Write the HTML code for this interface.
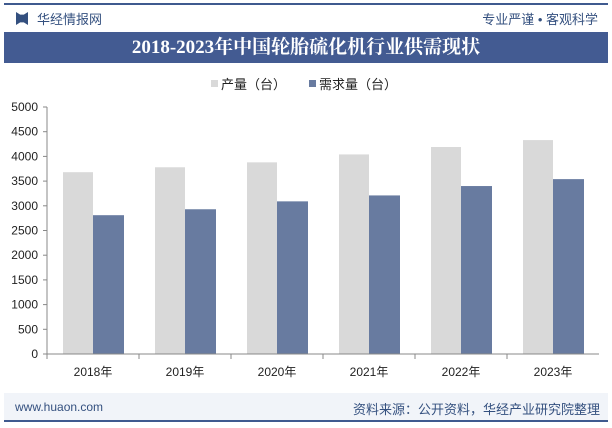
<!DOCTYPE html>
<html><head><meta charset="utf-8"><style>
body{margin:0;width:612px;height:428px;background:#fff;font-family:"Liberation Sans","Noto Sans CJK SC",sans-serif;position:relative;overflow:hidden}
.abs{position:absolute}
</style></head><body>
<div class="abs" style="left:4px;top:3px;width:604px;height:2px;background:#3f5a8f"></div>
<div class="abs" style="left:16px;top:12px;width:12px;height:13px;background:#34507f;clip-path:polygon(0 0,35% 20%,65% 20%,100% 0,100% 100%,65% 80%,35% 80%,0 100%)"></div>
<div class="abs" style="left:37px;top:9px;font-size:13px;color:#34507f">华经情报网</div>
<div class="abs" style="right:14px;top:9px;font-size:13px;color:#34507f">专业严谨 • 客观科学</div>
<div class="abs" style="left:4px;top:32px;width:604px;height:31px;background:#435b92;color:#fff;font:bold 19px 'Liberation Serif','Noto Serif CJK SC',serif;text-align:center;line-height:31px">2018-2023年中国轮胎硫化机行业供需现状</div>
<div class="abs" style="left:4px;top:393px;width:604px;height:27px;background:#f1f4f9"></div>
<div class="abs" style="left:15px;top:400px;font-size:12px;color:#34507f">www.huaon.com</div>
<div class="abs" style="right:12px;top:399px;font-size:13px;color:#34507f">资料来源：公开资料，华经产业研究院整理</div>
<div class="abs" style="left:4px;top:420px;width:604px;height:2px;background:#3f5a8f"></div>
<svg id="chart" class="abs" style="left:0;top:0" width="612" height="428"></svg>
<script>
const categories=["2018年","2019年","2020年","2021年","2022年","2023年"];
const production=[3680,3780,3880,4040,4190,4330];
const demand=[2810,2930,3090,3210,3400,3540];
const yTicks=[0,500,1000,1500,2000,2500,3000,3500,4000,4500,5000];
const svg=document.getElementById('chart');const NS='http://www.w3.org/2000/svg';
const x0=47,x1=599,y0=354,yTop=107,yMax=5000;
const bw=(x1-x0)/categories.length;
const y=v=>y0-(v/yMax)*(y0-yTop);
function mk(t,a){const e=document.createElementNS(NS,t);for(const k in a)e.setAttribute(k,a[k]);svg.appendChild(e);return e;}
yTicks.forEach(v=>{const t=mk('text',{x:38,y:y(v)+4,'text-anchor':'end','font-size':12,fill:'#222'});t.textContent=v;


const l=mk('line',{x1:43,x2:47,y1:y(v),y2:y(v),stroke:'#888'});

});
const ya=mk('line',{x1:47,x2:47,y1:yTop,y2:y0,stroke:'#888'});


categories.forEach((c,i)=>{const cx=x0+bw*(i+0.5);
const r1=mk('rect',{x:cx-30,y:y(production[i]),width:30,height:y0-y(production[i]),fill:'#d9d9d9'});


const r2=mk('rect',{x:cx,y:y(demand[i]),width:31,height:y0-y(demand[i]),fill:'#687ba0'});


const t=mk('text',{x:cx,y:376,'text-anchor':'middle','font-size':12,fill:'#222'});t.textContent=c;


const tk=mk('line',{x1:x0+bw*i,x2:x0+bw*i,y1:y0,y2:y0+5,stroke:'#888'});

});
const xa=mk('line',{x1:x0,x2:x1,y1:y0,y2:y0,stroke:'#888'});


const lg1=mk('rect',{x:211,y:80,width:7,height:7,fill:'#d9d9d9'});


const lt1=mk('text',{x:221,y:89,'font-size':13,fill:'#222'});lt1.textContent='产量（台）';


const lg2=mk('rect',{x:309,y:80,width:7,height:7,fill:'#687ba0'});


const lt2=mk('text',{x:319,y:89,'font-size':13,fill:'#222'});lt2.textContent='需求量（台）';


</script>
</body></html>
